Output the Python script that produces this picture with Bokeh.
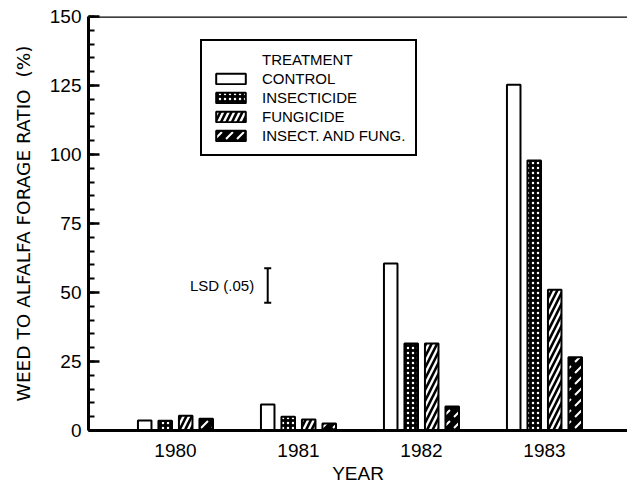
from bokeh.plotting import figure
from bokeh.models import (Range1d, FixedTicker, ColumnDataSource, Legend, LegendItem,
                          Span, Label, Whisker, TeeHead)
from bokeh.embed import file_html
from bokeh.resources import INLINE

years = [1980, 1981, 1982, 1983]
treatments = ["CONTROL", "INSECTICIDE", "FUNGICIDE", "INSECT. AND FUNG."]
legend_title = "TREATMENT"
control = [3.6, 9.4, 60.5, 125.3]
insecticide = [3.5, 5.0, 31.5, 97.8]
fungicide = [5.3, 4.0, 31.5, 51.0]
insect_fung = [4.3, 2.5, 8.7, 26.5]
series = [control, insecticide, fungicide, insect_fung]
y_ticks = [0, 25, 50, 75, 100, 125, 150]
lsd_value = 12.5
lsd_center = 52.5
lsd_year = 1980.75

FONT = "Liberation Sans"

p = figure(width=627, height=487, output_backend="svg", toolbar_location=None,
           x_range=Range1d(1979.293, 1983.675), y_range=Range1d(0, 150),
           min_border_left=88, min_border_right=0, min_border_top=16, min_border_bottom=57)
p.outline_line_color = None
p.xgrid.visible = False
p.ygrid.visible = False
p.background_fill_color = "white"
p.border_fill_color = "white"

styles = [
    dict(fill_color="white"),
    dict(fill_color="black", hatch_pattern="dot", hatch_color="white", hatch_scale=5, hatch_weight=1.5),
    dict(fill_color="white", hatch_pattern="right_diagonal_line", hatch_color="black", hatch_scale=11, hatch_weight=2.6),
    dict(fill_color="black", hatch_pattern="right_diagonal_dash", hatch_color="white", hatch_scale=11, hatch_weight=2),
]
offsets = [-0.25, -0.0833, 0.0833, 0.25]
renderers = []
for vals, off, st in zip(series, offsets, styles):
    src = ColumnDataSource(dict(x=[y + off for y in years], top=vals))
    r = p.vbar(x="x", top="top", bottom=0, width=0.11, source=src,
               line_color="black", line_width=2, **st)
    renderers.append(r)

# invisible renderer used for the legend heading row
dummy = p.vbar(x=[], top=[], width=0.1, fill_alpha=0, line_alpha=0)

items = [LegendItem(label=legend_title, renderers=[dummy])]
items += [LegendItem(label=t, renderers=[r]) for t, r in zip(treatments, renderers)]
legend = Legend(items=items, location=(112, 274), orientation="vertical",
                glyph_width=37, glyph_height=13, spacing=2, padding=10, margin=0,
                label_text_font=FONT, label_text_font_size="15px", label_height=13,
                label_text_color="black", label_standoff=13,
                border_line_color="black", border_line_width=2, border_line_alpha=1,
                background_fill_color="white", background_fill_alpha=1)
p.add_layout(legend, "center")

# LSD bar
lsd_src = ColumnDataSource(dict(x=[lsd_year], lo=[lsd_center - lsd_value / 2], hi=[lsd_center + lsd_value / 2]))
p.segment(x0="x", y0="lo", x1="x", y1="hi", source=lsd_src, line_color="black", line_width=2)
p.add_layout(Whisker(base="x", lower="lo", upper="hi", source=lsd_src, dimension="height",
                     line_alpha=0,
                     upper_head=TeeHead(size=7, line_width=2, line_color="black"),
                     lower_head=TeeHead(size=7, line_width=2, line_color="black")))
p.add_layout(Label(x=lsd_year - 0.11, y=lsd_center, text="LSD (.05)", text_align="right",
                   text_baseline="middle", text_font=FONT, text_font_size="15px",
                   text_color="black"))

# top border
p.add_layout(Span(location=150, dimension="width", line_color="black", line_width=2.5))

# axes
p.yaxis.ticker = FixedTicker(ticks=y_ticks, minor_ticks=list(range(0, 151, 5)))
p.yaxis.major_tick_in = 11
p.yaxis.major_tick_out = 0
p.yaxis.minor_tick_in = 6
p.yaxis.minor_tick_out = 0
p.yaxis.axis_line_width = 3
p.yaxis.major_tick_line_width = 2.5
p.yaxis.minor_tick_line_width = 2
p.yaxis.major_label_text_font = FONT
p.yaxis.major_label_text_font_size = "19px"
p.yaxis.major_label_text_color = "black"
p.yaxis.major_label_standoff = 7
p.yaxis.axis_label = "WEED TO ALFALFA FORAGE RATIO\u00a0\u00a0(%)"
p.yaxis.axis_label_text_font = "DejaVu Sans"
p.yaxis.axis_label_text_font_size = "18.5px"
p.yaxis.axis_label_text_font_style = "normal"
p.yaxis.axis_label_text_color = "black"
p.yaxis.axis_label_standoff = 13

p.xaxis.ticker = FixedTicker(ticks=years, minor_ticks=[])
p.xaxis.major_tick_in = 0
p.xaxis.major_tick_out = 0
p.xaxis.minor_tick_in = 0
p.xaxis.minor_tick_out = 0
p.xaxis.axis_line_width = 3
p.xaxis.major_label_text_font = FONT
p.xaxis.major_label_text_font_size = "19px"
p.xaxis.major_label_text_color = "black"
p.xaxis.major_label_standoff = 13
p.xaxis.axis_label = "YEAR"
p.xaxis.axis_label_text_font = FONT
p.xaxis.axis_label_text_font_size = "19px"
p.xaxis.axis_label_text_font_style = "normal"
p.xaxis.axis_label_text_color = "black"
p.xaxis.axis_label_standoff = 3

open("out.html", "w").write(file_html(p, INLINE))
